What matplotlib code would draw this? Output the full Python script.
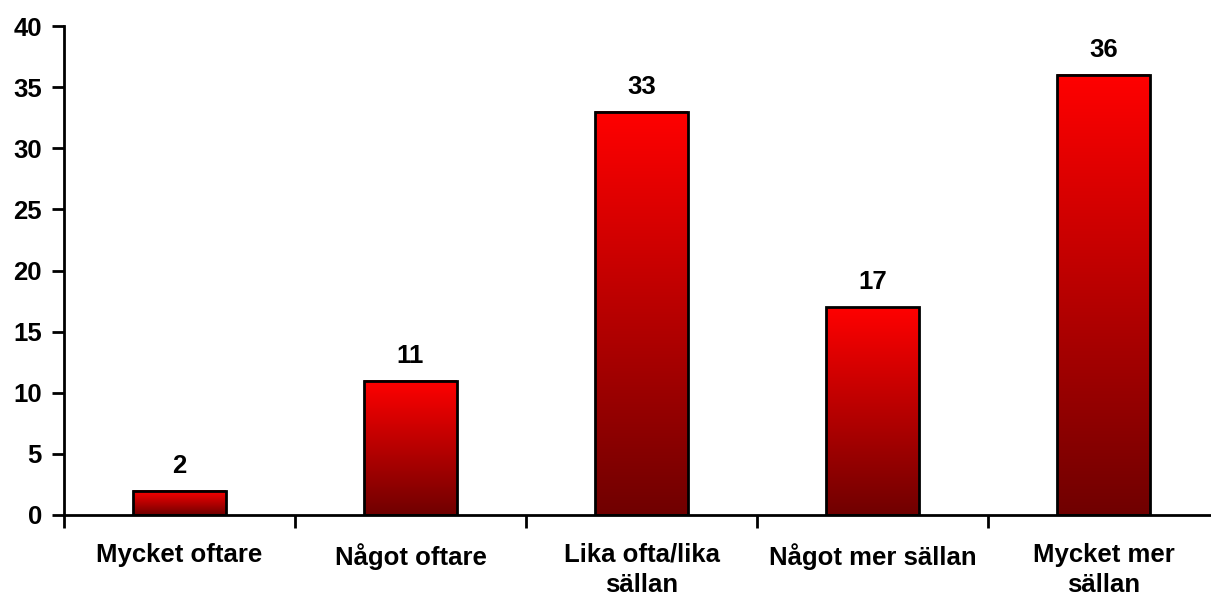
import numpy as np
import matplotlib.pyplot as plt
from matplotlib.colors import LinearSegmentedColormap

categories = ['Mycket oftare', 'Något oftare', 'Lika ofta/lika\nsällan',
              'Något mer sällan', 'Mycket mer\nsällan']
values = [2, 11, 33, 17, 36]

plt.rcParams['font.family'] = ['Liberation Sans', 'DejaVu Sans']
plt.rcParams['font.weight'] = 'bold'

fig = plt.figure(figsize=(12.11, 5.97), dpi=100)
ax = fig.add_axes([64 / 1211, 1 - 515 / 597, 1155 / 1211, 489 / 597])

x = np.arange(len(values))
bars = ax.bar(x, values, width=0.4, color='none', edgecolor='black', linewidth=2, zorder=3)

# vertical gradient inside each bar: bright red on top, dark red at the base
cmap = LinearSegmentedColormap.from_list('redgrad', ['#700000', '#ff0000'])
grad = np.linspace(0, 1, 256).reshape(-1, 1)
for b in bars:
    x0, y0 = b.get_x(), b.get_y()
    w, h = b.get_width(), b.get_height()
    ax.imshow(grad, cmap=cmap, origin='lower', aspect='auto',
              extent=[x0, x0 + w, y0, y0 + h], zorder=2)
    ax.text(x0 + w / 2, h + 1.47, f'{h:g}', ha='center', va='baseline',
            fontsize=18.5, fontweight='bold')

ax.set_xlim(-0.5, len(values) - 0.5)
ax.set_ylim(0, 40)
ax.set_yticks(range(0, 41, 5))
ax.set_xticks(x)
ax.set_xticklabels(categories, fontsize=18.5, fontweight='bold', linespacing=1.32)
ax.set_xticks(np.arange(-0.5, len(values), 1), minor=True)
ax.tick_params(axis='x', which='major', length=0, pad=20)
ax.tick_params(axis='x', which='minor', length=9, width=2, direction='out')
ax.tick_params(axis='y', length=9, width=2, direction='out', labelsize=18.5, pad=7)
for lbl in ax.get_yticklabels():
    lbl.set_fontweight('bold')

for s in ['top', 'right']:
    ax.spines[s].set_visible(False)
for s in ['left', 'bottom']:
    ax.spines[s].set_linewidth(2)

fig.savefig('out.png', dpi=100)
